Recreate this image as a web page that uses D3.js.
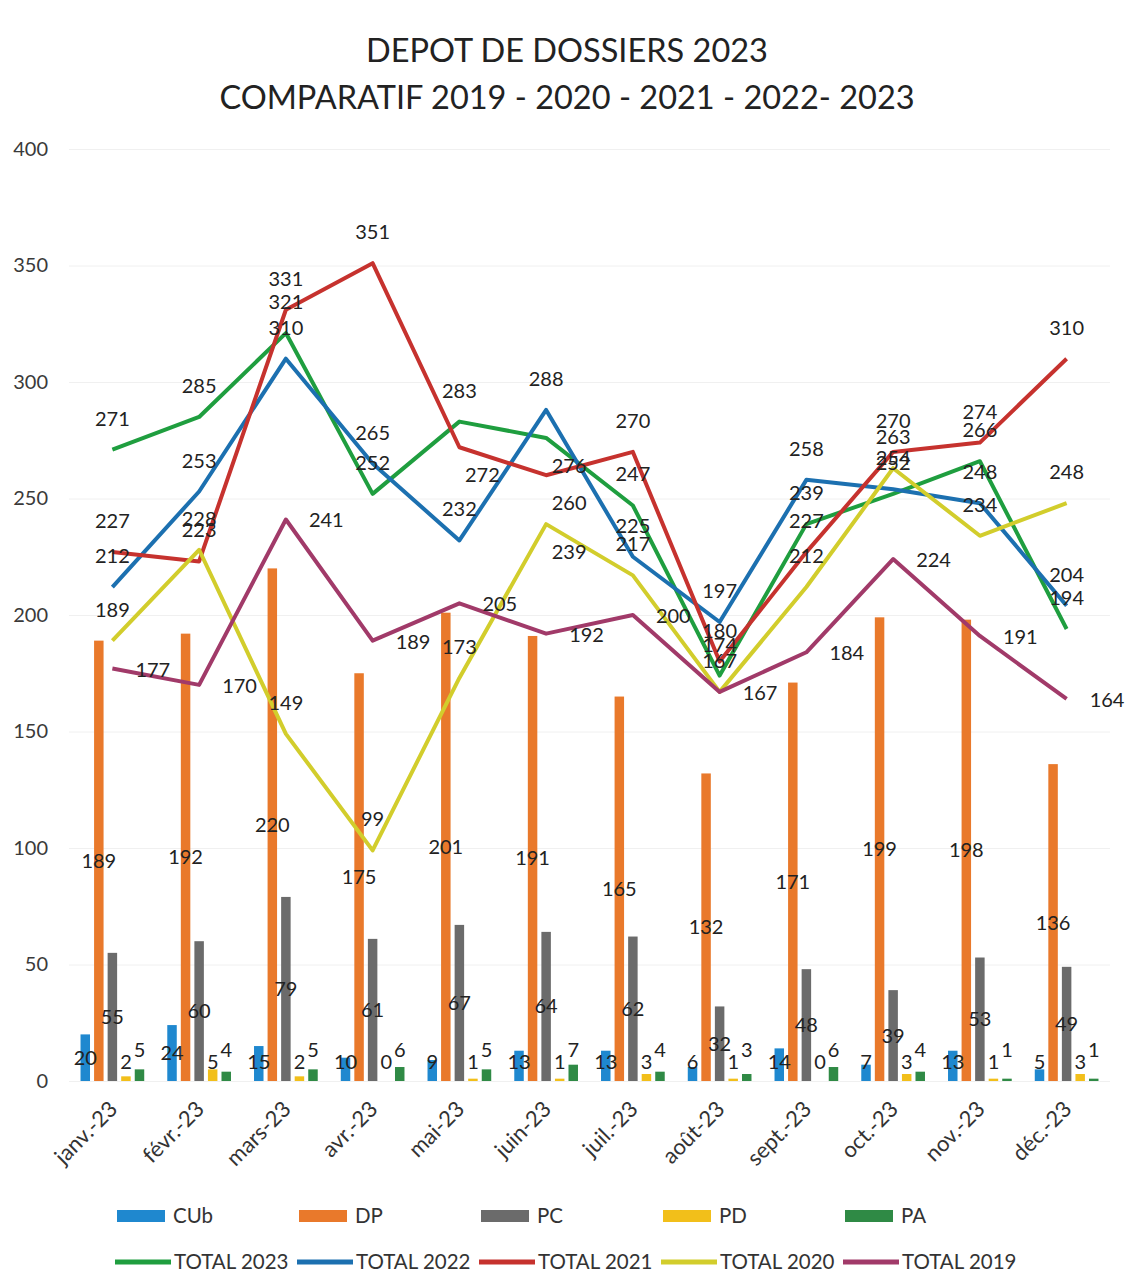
<!DOCTYPE html>
<html>
<head>
<meta charset="utf-8">
<script src="https://cdn.jsdelivr.net/npm/d3@7"></script>
<style>
    body { margin: 0; background: #fff; }
    svg { font-family: Lato, "Open Sans", sans-serif; }
</style>
</head>
<body>
<div id="vis"></div>
<script>
//categories
const months = ['janv.-23', 'févr.-23', 'mars-23', 'avr.-23', 'mai-23', 'juin-23',
    'juil.-23', 'août-23', 'sept.-23', 'oct.-23', 'nov.-23', 'déc.-23']

//bar series (dossiers par type)
const cub = [20, 24, 15, 10, 9, 13, 13, 6, 14, 7, 13, 5]
const dp = [189, 192, 220, 175, 201, 191, 165, 132, 171, 199, 198, 136]
const pc = [55, 60, 79, 61, 67, 64, 62, 32, 48, 39, 53, 49]
const pd = [2, 5, 2, 0, 1, 1, 3, 1, 0, 3, 1, 3]
const pa = [5, 4, 5, 6, 5, 7, 4, 3, 6, 4, 1, 1]

//line series (totaux par annee)
const total2023 = [271, 285, 321, 252, 283, 276, 247, 174, 239, 252, 266, 194]
const total2022 = [212, 253, 310, 265, 232, 288, 225, 197, 258, 254, 248, 204]
const total2021 = [227, 223, 331, 351, 272, 260, 270, 180, 227, 270, 274, 310]
const total2020 = [189, 228, 149, 99, 173, 239, 217, 167, 212, 263, 234, 248]
const total2019 = [177, 170, 241, 189, 205, 192, 200, 167, 184, 224, 191, 164]

const yTicks = [0, 50, 100, 150, 200, 250, 300, 350, 400]

//series tables built from the arrays above
const barSeries = [
    { name: 'CUb', values: cub, color: '#1f88cf' },
    { name: 'DP', values: dp, color: '#e9792b' },
    { name: 'PC', values: pc, color: '#6b6b6b' },
    { name: 'PD', values: pd, color: '#f2bf1a' },
    { name: 'PA', values: pa, color: '#2f8a45' }
]
const lineSeries = [
    { name: 'TOTAL 2023', values: total2023, color: '#1f9e3f', label: 'above' },
    { name: 'TOTAL 2022', values: total2022, color: '#1c70b0', label: 'above' },
    { name: 'TOTAL 2021', values: total2021, color: '#c6322e', label: 'above' },
    { name: 'TOTAL 2020', values: total2020, color: '#d2cd2c', label: 'above' },
    { name: 'TOTAL 2019', values: total2019, color: '#a13a69', label: 'right' }
]
//a few labels excel pushed below the point
const labelBelow = { 'TOTAL 2021': [4, 5], 'TOTAL 2023': [5], 'TOTAL 2020': [5] }

const width = 1125
const height = 1274
const plot = { left: 69, right: 1110, top: 149, bottom: 1081 }

const svg = d3.select('#vis')
    .append('svg')
    .attr('width', width)
    .attr('height', height)

//title
const title = svg.append('g')
    .attr('fill', '#222')
    .attr('font-size', 32.5)
    .attr('text-anchor', 'middle')
title.append('text').attr('x', 567).attr('y', 62).text('DEPOT DE DOSSIERS 2023')
title.append('text').attr('x', 567).attr('y', 109).text('COMPARATIF 2019 - 2020 - 2021 - 2022- 2023')

//scales
const x = d3.scaleBand()
    .domain(months)
    .range([plot.left, plot.right])
    .paddingInner(0.25)
    .paddingOuter(0.125)

const x1 = d3.scaleBand()
    .domain(barSeries.map(d => d.name))
    .range([0, x.bandwidth()])
    .paddingInner(0.3)
    .paddingOuter(0.05)

const y = d3.scaleLinear()
    .domain([0, 400])
    .range([plot.bottom, plot.top])

//grid + y labels
const yAxis = svg.append('g')
    .attr('transform', `translate(${plot.left},0)`)
    .call(d3.axisLeft(y).tickValues(yTicks).tickSize(-(plot.right - plot.left)).tickPadding(21))
yAxis.select('.domain').remove()
yAxis.selectAll('.tick line').attr('stroke', '#f0f0f0')
yAxis.selectAll('.tick text')
    .attr('font-size', 20)
    .attr('fill', '#3a3a3a')
    .attr('font-family', 'Lato, sans-serif')

//x labels, rotated
svg.append('g')
    .selectAll('text')
    .data(months)
    .join('text')
    .attr('transform', d => `translate(${x(d) + x.bandwidth() / 2 + 1},${plot.bottom + 24}) rotate(-45)`)
    .attr('text-anchor', 'end')
    .attr('dy', '0.35em')
    .attr('font-size', 22)
    .attr('fill', '#333')
    .text(d => d)

//bars
const groups = svg.append('g')
    .selectAll('g')
    .data(months)
    .join('g')
    .attr('transform', d => `translate(${x(d)},0)`)

groups.selectAll('rect')
    .data((m, i) => barSeries.map(s => ({ name: s.name, color: s.color, value: s.values[i] })))
    .join('rect')
    .attr('x', d => x1(d.name))
    .attr('width', x1.bandwidth())
    .attr('y', d => y(d.value))
    .attr('height', d => y(0) - y(d.value))
    .attr('fill', d => d.color)

//lines
const line = d3.line()
    .x((d, i) => x(months[i]) + x.bandwidth() / 2)
    .y(d => y(d))

svg.append('g')
    .selectAll('path')
    .data(lineSeries)
    .join('path')
    .attr('d', d => line(d.values))
    .attr('fill', 'none')
    .attr('stroke', d => d.color)
    .attr('stroke-width', 4)
    .attr('stroke-linejoin', 'round')

//bar labels: centered, kept above the axis for the small ones
const barLabels = svg.append('g')
    .attr('font-size', 20)
    .attr('fill', '#222')
    .attr('text-anchor', 'middle')
barSeries.forEach(s => {
    const lift = s.name === 'PA' ? 31 : 19
    barLabels.selectAll(null)
        .data(s.values)
        .join('text')
        .attr('x', (d, i) => x(months[i]) + x1(s.name) + x1.bandwidth() / 2)
        .attr('y', d => Math.min((y(0) + y(d)) / 2, y(0) - lift))
        .attr('dy', '0.35em')
        .text(d => d)
})

//line labels
const lineLabels = svg.append('g')
    .attr('font-size', 20)
    .attr('fill', '#222')
lineSeries.forEach(s => {
    const below = labelBelow[s.name] || []
    lineLabels.selectAll(null)
        .data(s.values)
        .join('text')
        .attr('x', (d, i) => {
            const cx = x(months[i]) + x.bandwidth() / 2
            if (s.label === 'right') return cx + 23
            return below.includes(i) ? cx + 23 : cx
        })
        .attr('y', (d, i) => {
            if (s.label === 'right') return y(d) + 1
            return below.includes(i) ? y(d) + 28 : y(d) - 31
        })
        .attr('dy', '0.35em')
        .attr('text-anchor', s.label === 'right' ? 'start' : 'middle')
        .text(d => d)
})

//legend
const legend = svg.append('g')
    .attr('font-size', 20.5)
    .attr('fill', '#333')

const barItems = legend.selectAll('.bar-item')
    .data(barSeries)
    .join('g')
    .attr('class', 'bar-item')
    .attr('transform', (d, i) => `translate(${117 + i * 182},1216)`)
barItems.append('rect')
    .attr('x', 0)
    .attr('y', -6)
    .attr('width', 48)
    .attr('height', 12)
    .attr('fill', d => d.color)
barItems.append('text')
    .attr('x', 56)
    .attr('dy', '0.35em')
    .text(d => d.name)

const lineItems = legend.selectAll('.line-item')
    .data(lineSeries)
    .join('g')
    .attr('class', 'line-item')
    .attr('transform', (d, i) => `translate(${115 + i * 182},1262)`)
lineItems.append('line')
    .attr('x1', 0)
    .attr('x2', 56)
    .attr('stroke', d => d.color)
    .attr('stroke-width', 5)
lineItems.append('text')
    .attr('x', 59)
    .attr('dy', '0.35em')
    .text(d => d.name)
</script>
</body>
</html>
